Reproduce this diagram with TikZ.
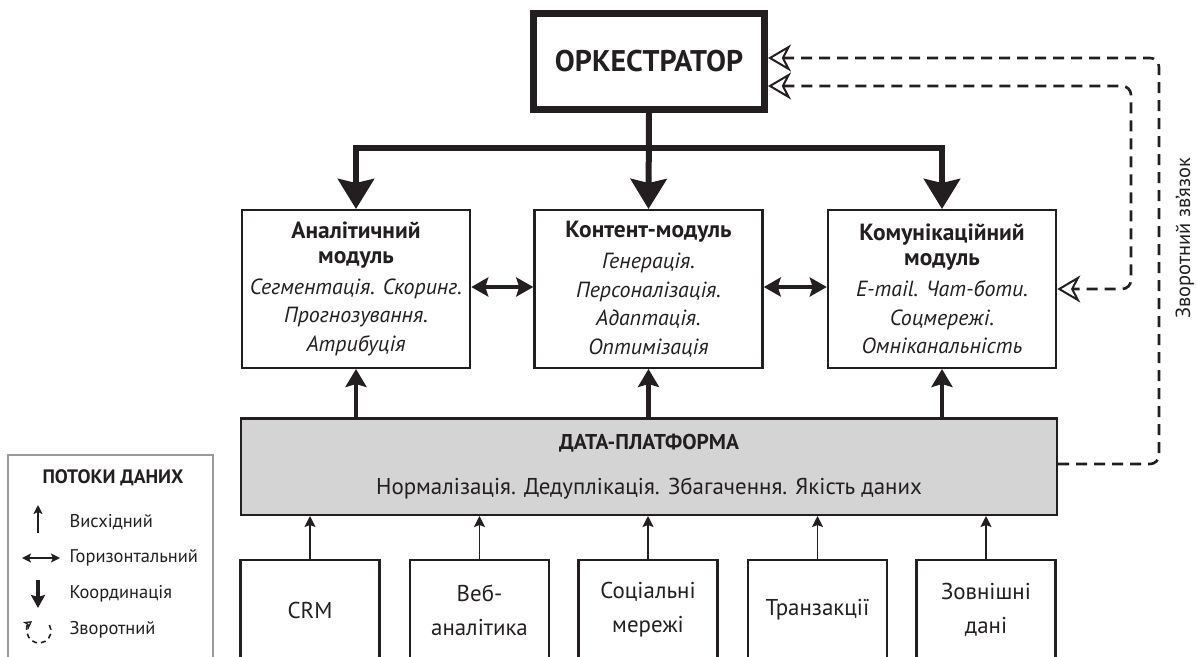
\documentclass[tikz,border=0pt]{standalone}
\usepackage{fontspec}
\setmainfont{PT Sans}
\usetikzlibrary{arrows.meta}
\definecolor{ink}{HTML}{231F20}
\definecolor{platfill}{HTML}{D4D4D5}
\definecolor{legline}{HTML}{9A9A9A}
\begin{document}
\begin{tikzpicture}[x=1bp,y=-1bp,
  every node/.style={text=ink},
  orcbox/.style={draw=ink,line width=7bp,minimum width=231bp,minimum height=96bp,inner sep=0pt,
     font=\fontsize{30}{32}\selectfont\bfseries},
  modbox/.style={draw=ink,line width=2.5bp,minimum width=228bp,minimum height=157.5bp,inner sep=0pt,
     align=center,font=\fontsize{22}{28.5}\selectfont},
  platbox/.style={draw=ink,fill=platfill,line width=2.5bp,minimum width=815.5bp,minimum height=96.5bp,
     inner sep=0pt,align=center,font=\fontsize{23}{45}\selectfont},
  srcbox/.style={draw=ink,line width=2.2bp,minimum width=139bp,minimum height=100bp,inner sep=0pt,
     align=center,font=\fontsize{23}{34}\selectfont},
  coordline/.style={draw=ink,line width=6bp},
  bigdown/.style={-{Stealth[length=30bp,width=36bp,inset=4bp]}},
  upthick/.style={draw=ink,line width=4.5bp,-{Stealth[length=18bp,width=21bp,inset=3bp]}},
  horiz/.style={draw=ink,line width=4bp,{Stealth[length=17bp,width=19bp,inset=3bp]}-{Stealth[length=17bp,width=19bp,inset=3bp]}},
  srcup/.style={draw=ink,line width=1.8bp,-{Stealth[length=11bp,width=11bp,inset=2bp]}},
  fbline/.style={draw=ink,line width=2.6bp,dash pattern=on 11bp off 7bp,rounded corners=9bp},
  fbtip/.tip={Stealth[open,length=23bp,width=27bp,inset=7bp,line width=2bp]},
  legtext/.style={anchor=west,font=\fontsize{18.5}{20}\selectfont},
]
\useasboundingbox (0,0) rectangle (1197,657);

% main nodes
\node[orcbox] (orc) at (649,61.5) {ОРКЕСТРАТОР};
\node[modbox] (A) at (356,289) {{\bfseries\fontsize{23.5}{28}\selectfont Аналітичний}\\[-4bp]{\bfseries\fontsize{23.5}{28}\selectfont модуль}\\[3bp]
  {\itshape Сегментація. Скоринг.}\\{\itshape Прогнозування.}\\{\itshape Атрибуція}};
\node[modbox] (C) at (648.5,289) {{\bfseries\fontsize{23.5}{28}\selectfont Контент-модуль}\\[3bp]
  {\itshape Генерація.}\\{\itshape Персоналізація.}\\{\itshape Адаптація.}\\{\itshape Оптимізація}};
\node[modbox] (K) at (942,289) {{\bfseries\fontsize{23.5}{28}\selectfont Комунікаційний}\\[-4bp]{\bfseries\fontsize{23.5}{28}\selectfont модуль}\\[3bp]
  {\itshape E-mail. Чат-боти.}\\{\itshape Соцмережі.}\\{\itshape Омніканальність}};
\node[platbox] (P) at (649,466.5) {{\bfseries\fontsize{21.5}{45}\selectfont ДАТА-ПЛАТФОРМА}\\Нормалізація. Дедуплікація. Збагачення. Якість даних};

\node[srcbox] (s1) at (310,610) {CRM};
\node[srcbox] (s2) at (479.5,610) {Веб-\\аналітика};
\node[srcbox] (s3) at (648,610) {Соціальні\\мережі};
\node[srcbox] (s4) at (817.5,610) {Транзакції};
\node[srcbox] (s5) at (986,610) {Зовнішні\\дані};

% coordination
\coordinate (bus) at (649,148);
\draw[coordline,{Stealth[length=30bp,width=36bp,inset=4bp]}-{Stealth[length=30bp,width=36bp,inset=4bp]}]
  (A.north) -- (A.north |- bus) -- (K.north |- bus) -- (K.north);
\draw[coordline,bigdown] (orc.south) -- (C.north);

% horizontal
\draw[horiz] (A.east |- 0,287) -- (C.west |- 0,287);
\draw[horiz] (C.east |- 0,287) -- (K.west |- 0,287);

% platform up
\draw[upthick] (P.north -| A) -- (A.south);
\draw[upthick] (P.north -| C) -- (C.south);
\draw[upthick] (P.north -| K) -- (K.south);

% sources
\foreach \s in {s1,s2,s3,s4,s5}{\draw[srcup] (\s.north) -- (P.south -| \s);}

% feedback
\coordinate (fbi) at (1131,86);
\coordinate (fbo) at (1159,58);
\draw[fbline,fbtip-fbtip] (orc.east |- fbi) -- (fbi) -- (fbi |- K.east) -- (K.east);
\draw[fbline,-fbtip] (P.east |- 0,464) -- (fbo |- 0,464) -- (fbo) -- (orc.east |- fbo);
\node[rotate=90,font=\fontsize{20.5}{22}\selectfont] (fblabel) at (1185,238) {Зворотний зв’язок};

% legend
\draw[legline,line width=1.3bp] (8,670) -- (8,455) -- (213,455) -- (213,670);
\node[font=\fontsize{19.5}{22}\selectfont\bfseries] (legtitle) at (113,478) {ПОТОКИ ДАНИХ};
\coordinate (l1a) at (38,533); \coordinate (l1b) at (38,505);
\draw[draw=ink,line width=1.8bp,-{Stealth[length=9bp,width=9bp,inset=2bp]}] (l1a) -- (l1b);
\node[legtext] (lt1) at (66,522) {Висхідний};
\coordinate (l2a) at (22,558); \coordinate (l2b) at (60,558);
\draw[draw=ink,line width=1.8bp,{Stealth[length=9bp,width=9bp,inset=2bp]}-{Stealth[length=9bp,width=9bp,inset=2bp]}] (l2a) -- (l2b);
\node[legtext] (lt2) at (66,558) {Горизонтальний};
\coordinate (l3a) at (38,580); \coordinate (l3b) at (38,608);
\draw[draw=ink,line width=3.5bp,-{Stealth[length=13bp,width=14bp,inset=2bp]}] (l3a) -- (l3b);
\node[legtext] (lt3) at (66,594) {Координація};
\coordinate (l4c) at (39,631);
\draw[draw=ink,line width=1.6bp,dash pattern=on 5bp off 4bp,-{Stealth[open,length=8bp,width=9bp,inset=2bp,line width=1.3bp]}]
  ([shift={(-30:12)}]l4c) arc[start angle=-30,end angle=235,radius=12];
\node[legtext] (lt4) at (66,630) {Зворотний};
\end{tikzpicture}
\end{document}
